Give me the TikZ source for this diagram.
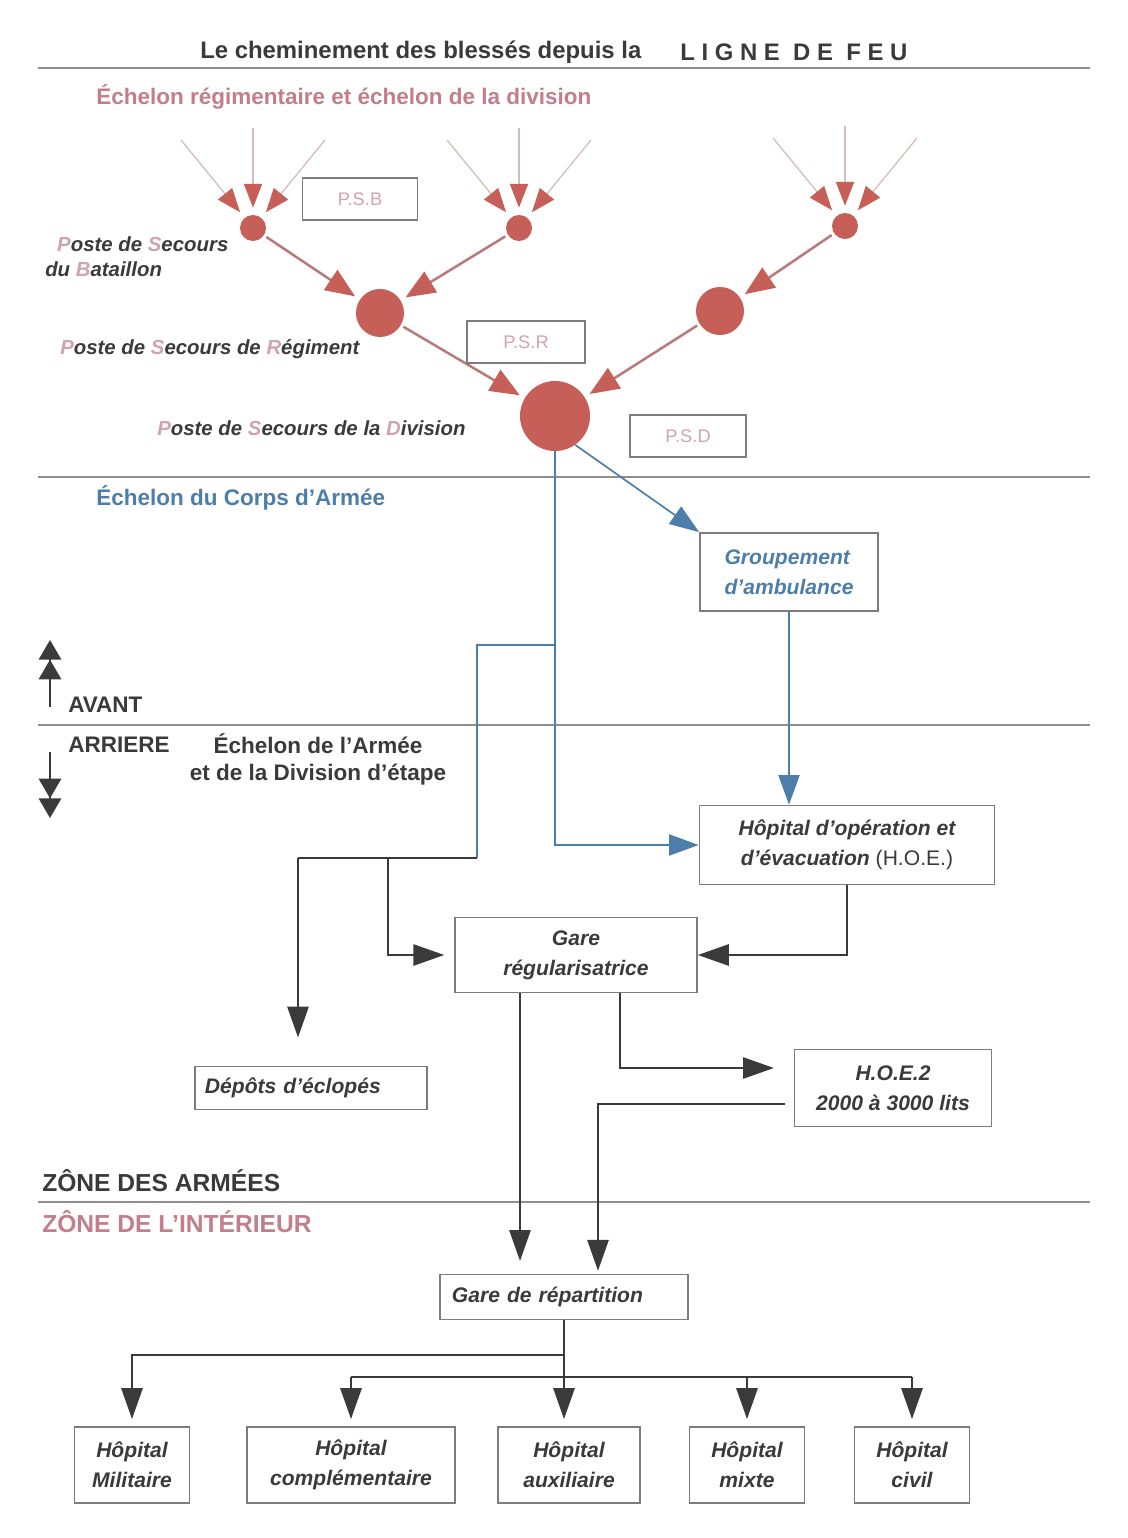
\documentclass[tikz,border=0pt]{standalone}
\usepackage{fontspec}
\setmainfont{Liberation Sans}
\usepackage{xcolor}
\definecolor{ink}{HTML}{3A3A3A}
\definecolor{rulegray}{HTML}{8E8E8E}
\definecolor{boxline}{HTML}{7C7C7C}
\definecolor{blood}{HTML}{C65F58}
\definecolor{bloodline}{HTML}{B67C7A}
\definecolor{bloodfeed}{HTML}{D2BDBD}
\definecolor{rose}{HTML}{C27E8A}
\definecolor{roselight}{HTML}{D0A4AC}
\definecolor{corps}{HTML}{4D7EA9}
\usetikzlibrary{arrows.meta,positioning}
\newcommand{\rosecap}[1]{\textcolor{roselight}{#1}}

\begin{document}
\begin{tikzpicture}[x=0.025cm, y=-0.025cm,
		font=\fontsize{16}{19}\selectfont\bfseries,
		rulel/.style={draw=rulegray, line width=2pt},
		lbl/.style={text=ink, inner sep=0, anchor=west},
		poste/.style={lbl, font=\fontsize{14.5}{18}\selectfont\bfseries\itshape},
		tag/.style={draw=boxline, line width=1.2pt, text=roselight, font=\fontsize{13}{15}\selectfont, minimum height=1.05cm},
		unit/.style={draw=boxline, line width=1.2pt, text=ink, font=\fontsize{15}{21.5}\selectfont\bfseries\itshape, align=center, inner sep=2pt, minimum height=1.9cm},
		dot/.style={circle, fill=blood, inner sep=0},
		feed/.style={draw=bloodfeed, line width=0.9pt, -{Triangle[length=17pt, width=13pt, color=blood]}, shorten >=5pt},
		flow/.style={draw=bloodline, line width=1.8pt, -{Triangle[length=21pt, width=17pt, color=blood]}, shorten >=4pt, shorten <=2pt},
		corpsline/.style={draw=corps, line width=1.2pt},
		corpsarrow/.style={corpsline, -{Triangle[length=21pt, width=15pt]}},
		darkline/.style={draw=ink, line width=1.8pt},
		darkarrow/.style={darkline, -{Triangle[length=22pt, width=15pt]}},
		sense/.style={darkline, line width=1.3pt, -{Triangle[length=14pt, width=16pt]Triangle[length=14pt, width=16pt]}}]
	\useasboundingbox (0,0) rectangle (1128,1538);

	% Title and zone rules
	\node[lbl, font=\fontsize{17}{20}\selectfont\bfseries] (title) at (200,52) {Le cheminement des blessés depuis la};
	\node[lbl, font=\fontsize{17}{20}\selectfont\bfseries] (feu) at (680,52) {L I G N E\ \ D E\ \ F E U};
	\foreach \y in {68,477,725,1202}{
		\draw[rulel] (38,\y) -- (1090,\y);
	}

	% Echelon regimentaire et division
	\node[lbl, text=rose] (regt) at (96,97) {Échelon régimentaire et échelon de la division};
	\node[dot, minimum size=0.65cm] (c1) at (253,228) {};
	\node[dot, minimum size=0.65cm] (c2) at (519,228) {};
	\node[dot, minimum size=0.65cm] (c3) at (845,226) {};
	\node[dot, minimum size=1.2cm] (m1) at (380,313) {};
	\node[dot, minimum size=1.2cm] (m2) at (720,311) {};
	\node[dot, minimum size=1.75cm] (d) at (555,416) {};

	% Wounded coming in from the line
	\foreach \c in {c1,c2,c3}{
		\foreach \k/\dx/\dy in {a/-72/-88, b/0/-100, c/72/-88}{
			\coordinate (\c\k) at ([shift={(\dx,\dy)}]\c.center);
			\draw[feed] (\c\k) -- (\c);
		}
	}
	\draw[flow] (c1) -- (m1);
	\draw[flow] (c2) -- (m1);
	\draw[flow] (c3) -- (m2);
	\draw[flow] (m1) -- (d);
	\draw[flow] (m2) -- (d);

	\node[tag, minimum width=2.875cm] (psb) at (360,199) {P.S.B};
	\node[tag, minimum width=2.95cm] (psr) at (526,342) {P.S.R};
	\node[tag, minimum width=2.9cm] (psd) at (688,436) {P.S.D};
	\node[poste, align=left] (psbtxt) at (45,257) {\hspace*{8.5pt}\rosecap{P}oste de \rosecap{S}ecours\\du \rosecap{B}ataillon};
	\node[poste] (psrtxt) at (60,349) {\rosecap{P}oste de \rosecap{S}ecours de \rosecap{R}égiment};
	\node[poste] (psdtxt) at (157,428) {\rosecap{P}oste de \rosecap{S}ecours de la \rosecap{D}ivision};

	% Echelon du Corps d'Armee
	\node[lbl, text=corps] (corpstxt) at (96,498) {Échelon du Corps d'Armée};
	\node[unit, text=corps, align=left, minimum width=4.45cm, minimum height=1.95cm] (grp) at (789,572) {Groupement\\d'ambulance};
	\draw[corpsarrow] (d.-55) -- (grp.north west);
	\node[unit, minimum width=7.375cm, minimum height=1.975cm] (hoe) at (847,845) {Hôpital d'opération et\\d'évacuation {\upshape\mdseries (H.O.E.)}};
	\draw[corpsarrow] (grp.south) -- (grp.south |- hoe.north);
	\draw[corpsarrow] (d.south) |- (hoe.west);
	\coordinate (j1) at (555,645);
	\coordinate (j2) at (477,858);
	\draw[corpsline] (j1) -| (j2);

	% Avant / Arriere
	\node[lbl] (avant) at (68,705) {AVANT};
	\node[lbl] (arriere) at (68,745) {ARRIERE};
	\coordinate (up0) at (50,707);
	\coordinate (up1) at (50,640);
	\coordinate (dn0) at (50,752);
	\coordinate (dn1) at (50,818);
	\draw[sense] (up0) -- (up1);
	\draw[sense] (dn0) -- (dn1);
	\node[text=ink, align=center, inner sep=0] (armee) at (318,759) {Échelon de l'Armée\\et de la Division d'étape};

	% Echelon de l'Armee
	\node[unit, minimum width=6.05cm, minimum height=1.875cm] (gr) at (576,955) {Gare\\régularisatrice};
	\node[unit, align=left, inner xsep=0.25cm, text width=5.3cm, minimum height=1.075cm] (dep) at (311,1088) {Dépôts d'éclopés};
	\node[unit, minimum width=4.925cm, minimum height=1.925cm] (hoe2) at (893,1088) {H.O.E.2\\2000 à 3000 lits};
	\coordinate (j3) at (298,858);
	\coordinate (j4) at (388,858);
	\draw[darkline] (j2) -- (j3);
	\draw[darkarrow, shorten >=20pt] (j3) -- (j3 |- dep.north);
	\draw[darkarrow, shorten >=7pt] (j4) |- (gr.west);
	\draw[darkarrow] (hoe.south) |- (gr.east);
	\coordinate (g1) at (520,993);
	\coordinate (g2) at (620,993);
	\coordinate (h2out) at (785,1104);
	\draw[darkarrow, shorten >=14pt] (g2) |- ([yshift=0.5cm]hoe2.west);

	% Zones
	\node[lbl, font=\fontsize{17.5}{20}\selectfont\bfseries] (zarm) at (42,1181) {ZÔNE DES ARMÉES};
	\node[lbl, text=rose, font=\fontsize{17.5}{20}\selectfont\bfseries] (zint) at (42,1222) {ZÔNE DE L'INTÉRIEUR};

	% Zone de l'interieur
	\node[unit, align=left, inner xsep=0.3cm, text width=5.6cm, minimum height=1.125cm] (rep) at (564,1297) {Gare de répartition};
	\draw[darkarrow, shorten >=9pt] (g1) -- (g1 |- rep.north);
	\coordinate (r2) at (598,1275);
	\draw[darkarrow, shorten >=3pt] (h2out) -| (r2);

	\node[unit, minimum width=2.875cm] (mil) at (132,1465) {Hôpital\\Militaire};
	\node[unit, minimum width=5.2cm] (comp) at (351,1465) {Hôpital\\complémentaire};
	\node[unit, minimum width=3.55cm] (aux) at (569,1465) {Hôpital\\auxiliaire};
	\node[unit, minimum width=2.875cm] (mix) at (747,1465) {Hôpital\\mixte};
	\node[unit, minimum width=2.875cm] (civ) at (912,1465) {Hôpital\\civil};
	\coordinate (s1) at (564,1355);
	\coordinate (s2) at (564,1377);
	\draw[darkarrow, shorten >=5pt] (rep.south) -- (rep.south |- aux.north);
	\draw[darkarrow, shorten >=5pt] (s1) -| (mil.north);
	\draw[darkline] (comp.north |- s2) -- (civ.north |- s2);
	\foreach \h in {comp,mix,civ}{
		\draw[darkarrow, shorten >=5pt] (\h.north |- s2) -- (\h.north);
	}
\end{tikzpicture}
\end{document}
